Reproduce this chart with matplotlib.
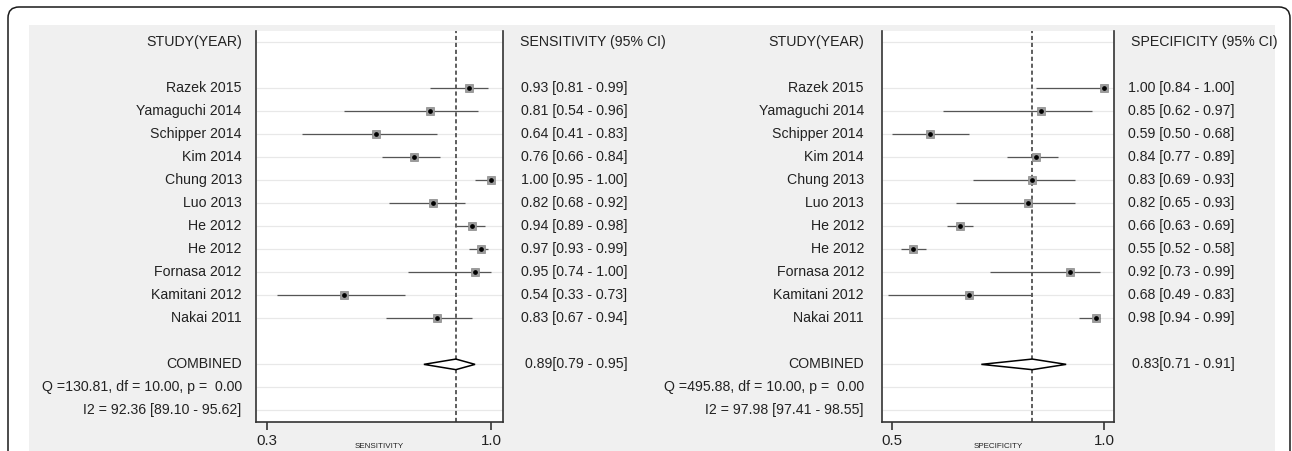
import matplotlib
matplotlib.use("Agg")
import matplotlib.pyplot as plt
from matplotlib import transforms
from matplotlib.patches import Rectangle, FancyBboxPatch, Polygon

plt.rcParams["font.family"] = ["Liberation Sans", "DejaVu Sans"]
plt.rcParams["lines.scale_dashes"] = False

# ---- data -------------------------------------------------------------
studies = ["Razek 2015", "Yamaguchi 2014", "Schipper 2014", "Kim 2014",
           "Chung 2013", "Luo 2013", "He 2012", "He 2012", "Fornasa 2012",
           "Kamitani 2012", "Nakai 2011"]

sens = [0.93, 0.81, 0.64, 0.76, 1.00, 0.82, 0.94, 0.97, 0.95, 0.54, 0.83]
sens_lo = [0.81, 0.54, 0.41, 0.66, 0.95, 0.68, 0.89, 0.93, 0.74, 0.33, 0.67]
sens_hi = [0.99, 0.96, 0.83, 0.84, 1.00, 0.92, 0.98, 0.99, 1.00, 0.73, 0.94]
sens_pooled = (0.89, 0.79, 0.95)
sens_stats = ["Q =130.81, df = 10.00, p =  0.00", "I2 = 92.36 [89.10 - 95.62]"]

spec = [1.00, 0.85, 0.59, 0.84, 0.83, 0.82, 0.66, 0.55, 0.92, 0.68, 0.98]
spec_lo = [0.84, 0.62, 0.50, 0.77, 0.69, 0.65, 0.63, 0.52, 0.73, 0.49, 0.94]
spec_hi = [1.00, 0.97, 0.68, 0.89, 0.93, 0.93, 0.69, 0.58, 0.99, 0.83, 0.99]
spec_pooled = (0.83, 0.71, 0.91)
spec_stats = ["Q =495.88, df = 10.00, p =  0.00", "I2 = 97.98 [97.41 - 98.55]"]

# ---- layout helpers (pixel units) ------------------------------------
W, H = 1292, 451
fig = plt.figure(figsize=(W / 100, H / 100), dpi=100)
fig.patch.set_facecolor("white")


def fx(x):
    return x / W


def fy(y):
    return 1 - y / H


TXT = "#222222"
FS = 10.2

# gray panel and rounded frame
fig.patches.append(Rectangle((fx(29), 0), fx(1275) - fx(29), fy(25),
                             transform=fig.transFigure, facecolor="#f0f0f0",
                             edgecolor="none", zorder=-2))
fig.patches.append(FancyBboxPatch((8, -30), 1282, H - 7 + 30,
                                  boxstyle="round,pad=0,rounding_size=11",
                                  transform=transforms.IdentityTransform(),
                                  fill=False, lw=1.1, ec="#1a1a1a", zorder=-1))

header_row = 0.0
study_rows = list(range(2, 2 + len(studies)))
pooled_row = 14
stat_rows = [15, 16]


def forest(ax_px, xlim, ticks, est, lo, hi, pooled, stats, label_x,
           val_right, head_left, head_text, xtitle):
    left, top, right, bottom = ax_px
    ax = fig.add_axes([fx(left), fy(bottom), (right - left) / W, (bottom - top) / H])
    ax.set_facecolor("white")
    ax.set_xlim(*xlim)
    ax.set_ylim(16.5, -0.46)
    for s in ["left", "right", "bottom"]:
        ax.spines[s].set_linewidth(1.2)
        ax.spines[s].set_color("#333333")
    ax.spines["top"].set_visible(False)
    ax.set_yticks([])
    ax.set_xticks(ticks)
    ax.set_xticklabels([f"{t:.1f}" for t in ticks])
    ax.tick_params(axis="x", direction="out", length=5.8, width=1.2,
                   color="#333333", labelsize=10.8, pad=2.5, labelcolor=TXT)

    grid_rows = [header_row] + study_rows + [pooled_row] + stat_rows
    ax.hlines(grid_rows, xlim[0], xlim[1], color="#e8e8e8", lw=0.9, zorder=0)

    ax.axvline(pooled[0], color="#333333", lw=1.1, ls=(0, (3, 2)), zorder=2)

    ax.hlines(study_rows, lo, hi, color="#555555", lw=0.9, zorder=3)
    ax.plot(est, study_rows, ls="none", marker="s", ms=6.4, mfc="#9c9c9c",
            mec="#888888", mew=0.5, zorder=4, clip_on=False)
    ax.plot(est, study_rows, ls="none", marker="o", ms=2.4, color="black",
            zorder=5, clip_on=False)

    p, plo, phi = pooled
    h = 0.23
    ax.add_patch(Polygon([(plo, pooled_row), (p, pooled_row - h), (phi, pooled_row),
                          (p, pooled_row + h)], closed=True, facecolor="white",
                         edgecolor="black", lw=1.1, zorder=4))

    tr = transforms.blended_transform_factory(fig.transFigure, ax.transData)
    fig.text(fx(label_x), header_row, "STUDY(YEAR)", transform=tr, ha="right",
             va="center", fontsize=FS, color=TXT)
    for r, name in zip(study_rows, studies):
        fig.text(fx(label_x), r, name, transform=tr, ha="right", va="center",
                 fontsize=FS, color=TXT)
    fig.text(fx(label_x), pooled_row, "COMBINED", transform=tr, ha="right",
             va="center", fontsize=FS, color=TXT)
    for r, s in zip(stat_rows, stats):
        fig.text(fx(label_x), r, s, transform=tr, ha="right", va="center",
                 fontsize=FS, color=TXT)

    fig.text(fx(head_left), header_row, head_text, transform=tr, ha="left",
             va="center", fontsize=FS, color=TXT)
    for r, e, l, u in zip(study_rows, est, lo, hi):
        fig.text(fx(val_right), r, f"{e:.2f} [{l:.2f} - {u:.2f}]", transform=tr,
                 ha="right", va="center", fontsize=FS, color=TXT)
    fig.text(fx(val_right), pooled_row, f"{p:.2f}[{plo:.2f} - {phi:.2f}]",
             transform=tr, ha="right", va="center", fontsize=FS, color=TXT)

    fig.text(fx((left + right) / 2), fy(450.5), xtitle, ha="center",
             va="bottom", fontsize=5.8, color=TXT)
    return ax


forest((255.7, 31, 503, 422), (0.2638, 1.0375), [0.3, 1.0],
       sens, sens_lo, sens_hi, sens_pooled, sens_stats,
       label_x=241.7, val_right=627.5, head_left=520,
       head_text="SENSITIVITY (95% CI)", xtitle="SENSITIVITY")

forest((881.7, 31, 1114.3, 422), (0.475, 1.0236), [0.5, 1.0],
       spec, spec_lo, spec_hi, spec_pooled, spec_stats,
       label_x=864, val_right=1234.5, head_left=1131,
       head_text="SPECIFICITY (95% CI)", xtitle="SPECIFICITY")

fig.savefig("out.png", dpi=100)
